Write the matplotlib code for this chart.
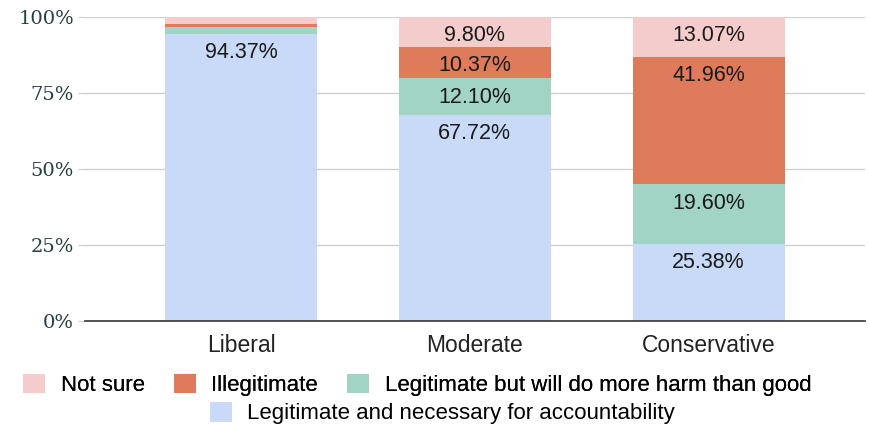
import matplotlib.pyplot as plt
import matplotlib.patches as mpatches
import numpy as np

categories = ['Liberal', 'Moderate', 'Conservative']
series = ['Legitimate and necessary for accountability',
          'Legitimate but will do more harm than good',
          'Illegitimate',
          'Not sure']
necessary = [94.37, 67.72, 25.38]
more_harm = [2.35, 12.10, 19.60]
illegit = [1.13, 10.37, 41.96]
not_sure = [2.15, 9.80, 13.07]
shown = [[True, True, True], [False, True, True], [False, True, True], [False, True, True]]
colors = ['#c9daf8', '#a2d4c6', '#dd7b5a', '#f4cccc']

plt.rcParams['font.family'] = ['Liberation Sans', 'DejaVu Sans']

fig = plt.figure(figsize=(8.69, 4.29), dpi=100)
ax = fig.add_axes([0.0978, 0.2517, 0.8972, 0.7086])

x = np.arange(len(categories))
width = 0.65
bottom = np.zeros(len(categories))
for i, vals in enumerate([necessary, more_harm, illegit, not_sure]):
    vals = np.array(vals)
    ax.bar(x, vals, width, bottom=bottom, color=colors[i], zorder=3)
    for j in range(len(categories)):
        if shown[i][j]:
            top = bottom[j] + vals[j]
            ax.annotate('%.2f%%' % vals[j], (x[j], top), xytext=(0, -6),
                        textcoords='offset points', ha='center', va='top',
                        fontsize=15.5, color='#1a1a1a', zorder=4)
    bottom += vals

ax.set_xlim(-0.667, 2.667)
ax.set_ylim(0, 100)
ax.set_yticks([0, 25, 50, 75, 100])
ax.set_yticklabels(['0%', '25%', '50%', '75%', '100%'], family='DejaVu Serif',
                   fontsize=14, color='#263f3f')
ax.set_xticks(x)
ax.set_xticklabels(categories, fontsize=16.5, color='#222222')
ax.tick_params(axis='x', length=0, pad=9)
ax.tick_params(axis='y', length=5, color='#cccccc', pad=3)
ax.grid(axis='y', color='#d0d0d0', linewidth=1, zorder=0)
for s in ['top', 'right', 'left']:
    ax.spines[s].set_visible(False)
ax.spines['bottom'].set_color('#333333')
ax.spines['bottom'].set_linewidth(1.2)
ax.spines['bottom'].set_zorder(5)

def patch(c):
    return mpatches.Patch(facecolor=c, edgecolor='none')

leg1 = fig.legend([patch(colors[3]), patch(colors[2]), patch(colors[1])],
                  [series[3], series[2], series[1]], ncol=3, loc='center',
                  bbox_to_anchor=(0.48, 0.103), frameon=False, fontsize=16,
                  handlelength=1.0, handleheight=1.0, columnspacing=1.3,
                  handletextpad=0.7, borderpad=0, borderaxespad=0)
fig.add_artist(leg1)
fig.legend([patch(colors[0])], [series[0]], loc='center',
           bbox_to_anchor=(0.509, 0.037), frameon=False, fontsize=16,
           handlelength=1.0, handleheight=1.0, handletextpad=0.7,
           borderpad=0, borderaxespad=0)

fig.savefig('out.png', dpi=100)
